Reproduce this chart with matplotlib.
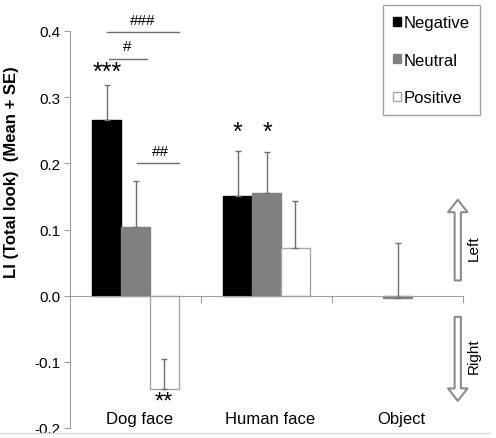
import numpy as np
import matplotlib
matplotlib.use('Agg')
import matplotlib.pyplot as plt
from matplotlib.patches import Patch
from matplotlib.lines import Line2D

plt.rcParams['font.family'] = ['Liberation Sans', 'DejaVu Sans']

# data
categories = ['Dog face', 'Human face', 'Object']
conditions = ['Negative', 'Neutral', 'Positive']
mean_negative = [0.266, 0.151, 0.0]
mean_neutral = [0.104, 0.155, -0.003]
mean_positive = [-0.141, 0.072, 0.0]
se_negative = [0.052, 0.068, 0.0]
se_neutral = [0.070, 0.062, 0.083]
se_positive = [0.046, 0.071, 0.0]

means = [mean_negative, mean_neutral, mean_positive]
ses = [se_negative, se_neutral, se_positive]
face_colors = ['black', '#808080', 'white']
edge_colors = ['black', '#808080', '#a6a6a6']

fig = plt.figure(figsize=(4.96, 4.39), dpi=100)
ax = fig.add_axes([70 / 496, 10 / 439, 393 / 496, 397 / 439])

x = np.arange(len(categories))
width = 0.22
for i in range(3):
    xs = x + (i - 1) * width
    lws = [0 if v == 0 else 1 for v in means[i]]
    ax.bar(xs, means[i], width, color=face_colors[i], edgecolor=edge_colors[i],
           linewidth=lws, zorder=2)
    m = np.array(ses[i]) > 0
    yerr = np.vstack([np.zeros(m.sum()), np.array(ses[i])[m]])
    ax.errorbar(xs[m], np.array(means[i])[m], yerr=yerr, fmt='none',
                ecolor='#6e6e6e', elinewidth=1, capsize=2.5, capthick=1, zorder=3)

ax.set_xlim(-0.5, 2.5)
ax.set_ylim(-0.2, 0.4)
ax.set_yticks(np.arange(-0.2, 0.41, 0.1))
ax.set_yticklabels(['%.1f' % v for v in np.arange(-0.2, 0.41, 0.1)], fontsize=11)
ax.tick_params(axis='y', direction='out', length=4, color='#a0a0a0', pad=3)
ax.set_xticks([0.5, 1.5, 2.5])
ax.set_xticklabels([])
ax.tick_params(axis='x', direction='out', length=5, color='#a0a0a0')
for s in ['top', 'right']:
    ax.spines[s].set_visible(False)
ax.spines['bottom'].set_position(('data', 0))
ax.spines['bottom'].set_color('#a0a0a0')
ax.spines['left'].set_color('#a0a0a0')

for xi, name in zip(x, categories):
    ax.text(xi + 0.03, -0.186, name, ha='center', va='center', fontsize=12)

fig.text(12 / 496, 1 - 172 / 439, 'LI (Total look)  (Mean + SE)', rotation=90,
         ha='center', va='center', fontsize=12, fontweight='bold')

# significance marks
ax.text(-0.214, 0.339, '***', ha='center', va='center', fontsize=18)
ax.text(0.215, -0.16, '**', ha='center', va='center', fontsize=17)
ax.text(0.78, 0.247, '*', ha='center', va='center', fontsize=18)
ax.text(1.01, 0.247, '*', ha='center', va='center', fontsize=18)
ax.plot([-0.2, 0.09], [0.357, 0.357], color='#6e6e6e', lw=1)
ax.text(-0.067, 0.377, '#', ha='center', va='center', fontsize=11)
ax.plot([-0.215, 0.334], [0.399, 0.399], color='#6e6e6e', lw=1, clip_on=False)
ax.text(0.058, 0.416, '###', ha='center', va='center', fontsize=11)
ax.plot([0.009, 0.334], [0.2, 0.2], color='#6e6e6e', lw=1)
ax.text(0.187, 0.218, '##', ha='center', va='center', fontsize=11)

# direction arrows
arrow_style = 'simple,head_length=0.9,head_width=1.4,tail_width=0.45'
ax.annotate('', xy=(2.46, 0.145), xytext=(2.46, 0.023),
            arrowprops=dict(arrowstyle=arrow_style, fc='white', ec='#8c8c8c',
                            lw=1.5, shrinkA=0, shrinkB=0, mutation_scale=10),
            annotation_clip=False)
ax.annotate('', xy=(2.46, -0.159), xytext=(2.46, -0.032),
            arrowprops=dict(arrowstyle=arrow_style, fc='white', ec='#8c8c8c',
                            lw=1.5, shrinkA=0, shrinkB=0, mutation_scale=10),
            annotation_clip=False)
ax.text(2.585, 0.073, 'Left', rotation=90, ha='center', va='center', fontsize=11,
        clip_on=False)
ax.text(2.585, -0.09, 'Right', rotation=90, ha='center', va='center', fontsize=11,
        clip_on=False)

handles = [Patch(facecolor=face_colors[i], edgecolor=edge_colors[i]) for i in range(3)]
leg = fig.legend(handles, conditions, loc='upper right',
                 bbox_to_anchor=(480 / 496, 1 - 6 / 439), fontsize=12,
                 fancybox=False, edgecolor='#a0a0a0', framealpha=1,
                 handlelength=0.45, handleheight=0.45, handletextpad=0.2,
                 labelspacing=1.35, borderpad=0.6, borderaxespad=0)
leg.get_frame().set_linewidth(1)

fig.add_artist(Line2D([0, 490 / 496], [5 / 439, 5 / 439], color='#dcdcdc', lw=1))

plt.savefig('out.png', dpi=100)
